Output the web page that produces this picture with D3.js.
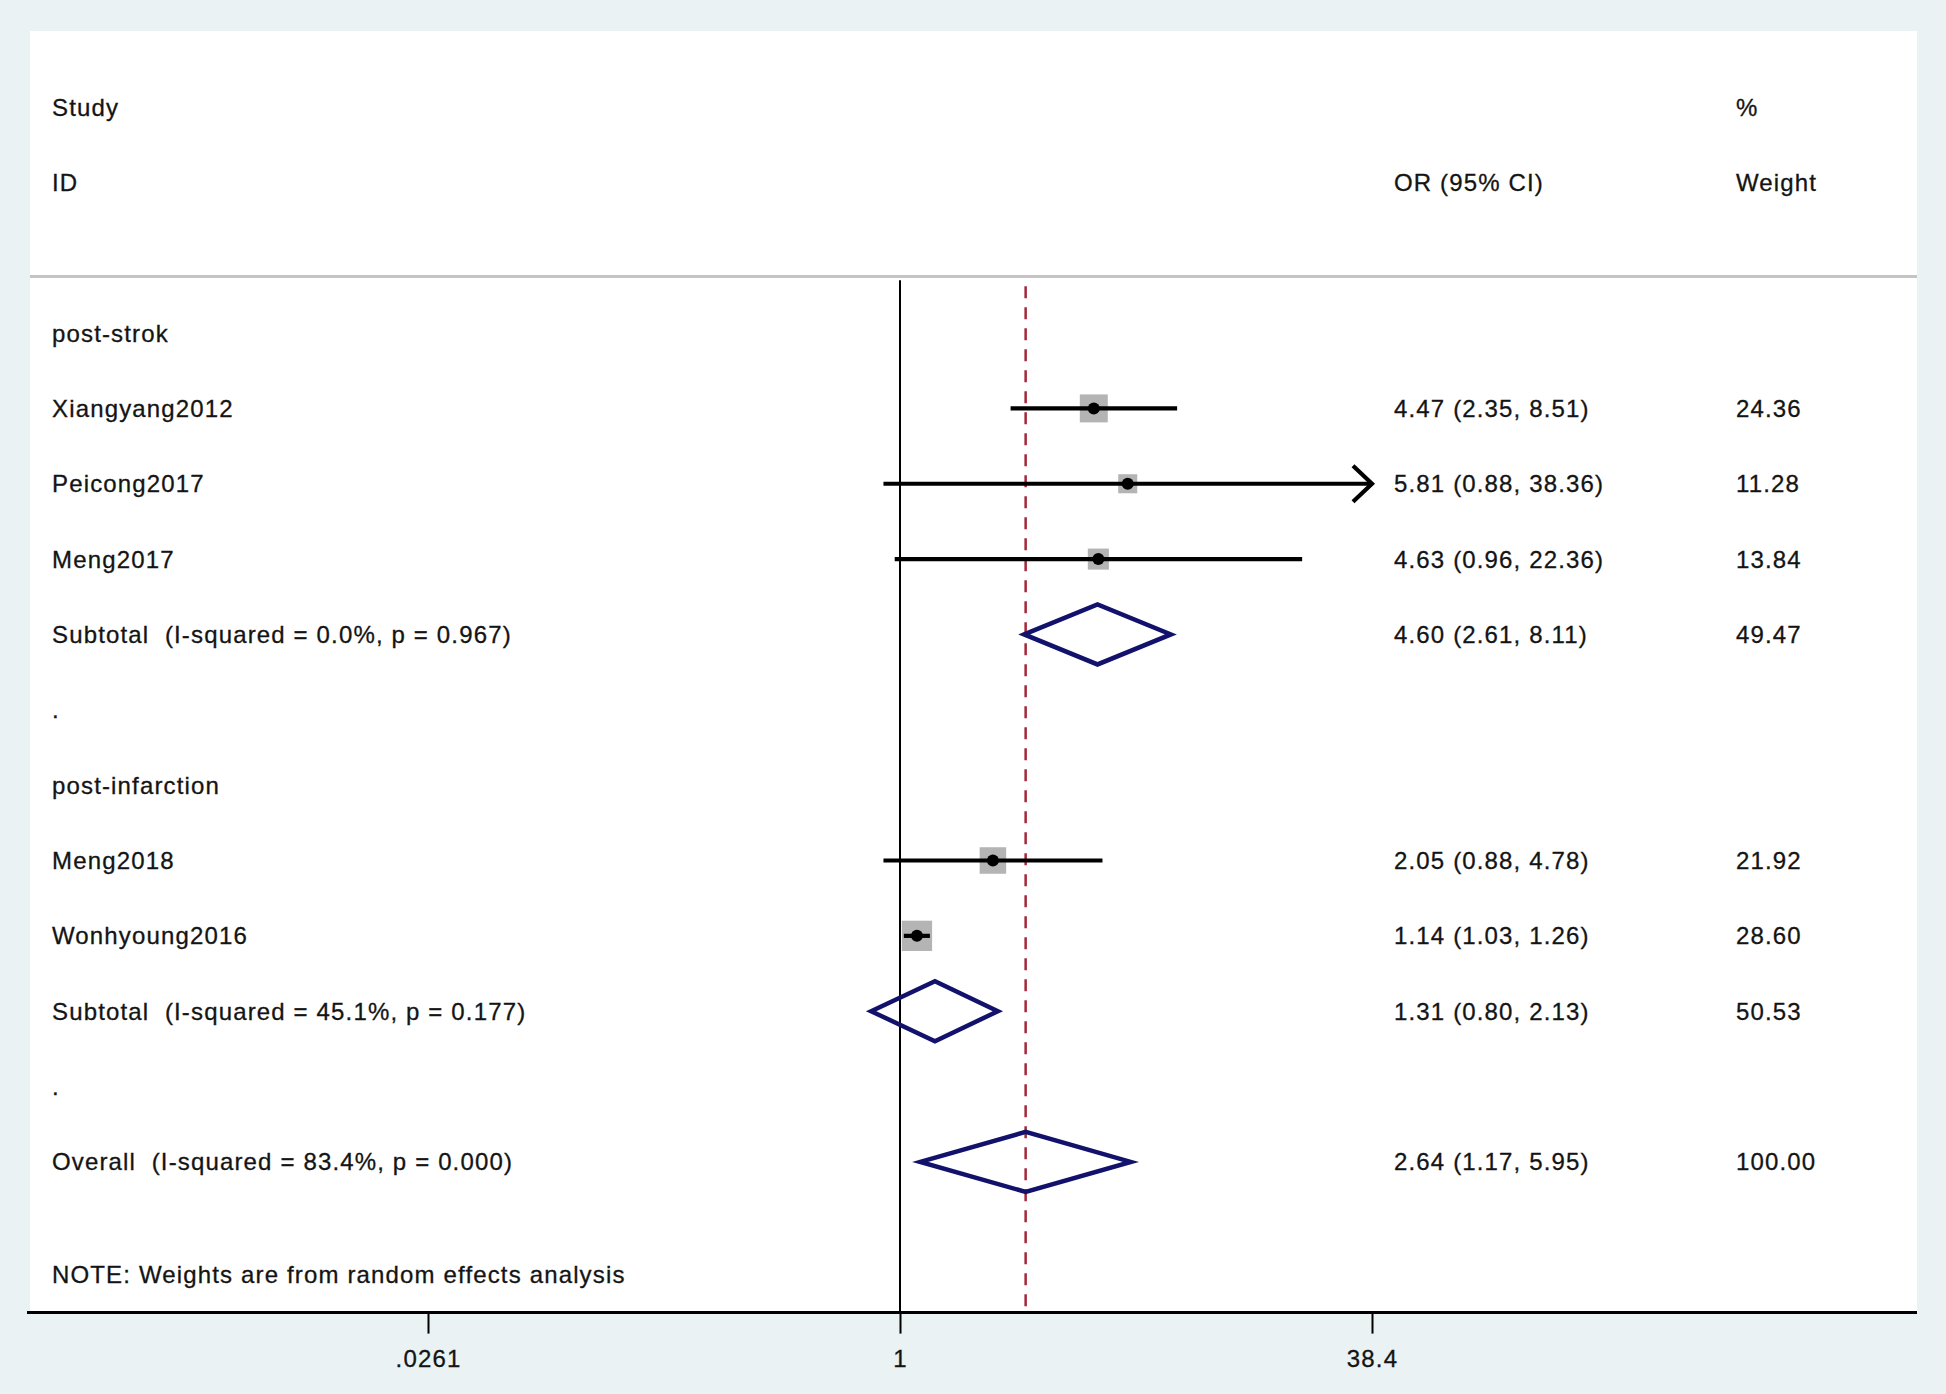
<!DOCTYPE html>
<html>
<head>
<meta charset="utf-8">
<script src="https://cdn.jsdelivr.net/npm/d3@7"></script>
<style>
  html, body { margin: 0; padding: 0; background: #eaf2f3; }
  text { font-family: "Liberation Sans", Arial, sans-serif; fill: #141414; stroke: #141414; stroke-width: 0.3; white-space: pre; }
</style>
</head>
<body>
<svg id="chart"></svg>
<script>
// forest plot, rows counted from the first group header
var rowLabels = ["post-strok", "Xiangyang2012", "Peicong2017", "Meng2017",
  "Subtotal  (I-squared = 0.0%, p = 0.967)", ".",
  "post-infarction", "Meng2018", "Wonhyoung2016",
  "Subtotal  (I-squared = 45.1%, p = 0.177)", ".",
  "Overall  (I-squared = 83.4%, p = 0.000)"];

// individual studies
var studyRow = [1, 2, 3, 7, 8];
var studyOR = [4.47, 5.81, 4.63, 2.05, 1.14];
var studyLo = [2.35, 0.88, 0.96, 0.88, 1.03];
var studyHi = [8.51, 38.36, 22.36, 4.78, 1.26];
var studyW = [24.36, 11.28, 13.84, 21.92, 28.60];

// pooled estimates
var poolRow = [4, 9, 11];
var poolOR = [4.60, 1.31, 2.64];
var poolLo = [2.61, 0.80, 1.17];
var poolHi = [8.11, 2.13, 5.95];
var poolW = [49.47, 50.53, 100.00];

// symmetric log axis, max = widest CI bound
var axisMax = 38.36;
var tickVals = [1 / axisMax, 1, axisMax];
var tickLabels = [".0261", "1", "38.4"];
var noteText = "NOTE: Weights are from random effects analysis";

var width = 1946, height = 1394;
var panel = {left: 30, top: 31, right: 1917};
var colLabel = 52, colOR = 1394, colW = 1736;
var fs = 24, ls = 1.15;

var svg = d3.select("#chart").attr("width", width).attr("height", height);

var x = d3.scaleLog().domain([1 / axisMax, axisMax]).range([428, 1372]);
var y = d3.scaleLinear().domain([-3, 13]).range([107, 1312.6]);
var side = d3.scaleSqrt().domain([0, 28.6]).range([0, 30.3]);
var axisY = y(13);

function fmt(v) { return v.toFixed(2); }

// white plot region
svg.append("rect")
  .attr("x", panel.left).attr("y", panel.top)
  .attr("width", panel.right - panel.left).attr("height", axisY - panel.top)
  .attr("fill", "#fff");

function txt(xp, row, s) {
  return svg.append("text")
    .attr("x", xp).attr("y", y(row) + 8.5)
    .attr("font-size", fs)
    .attr("letter-spacing", ls)
    .text(s);
}

// header
txt(colLabel, -3, "Study");
txt(colLabel, -2, "ID");
txt(colW, -3, "%");
txt(colOR, -2, "OR (95% CI)");
txt(colW, -2, "Weight");

svg.append("line")
  .attr("x1", panel.left).attr("x2", panel.right)
  .attr("y1", y(-0.75)).attr("y2", y(-0.75))
  .attr("stroke", "#c4c4c4").attr("stroke-width", 3);

// no-effect line and overall estimate line
svg.append("line")
  .attr("x1", x(1)).attr("x2", x(1))
  .attr("y1", y(-0.7)).attr("y2", axisY)
  .attr("stroke", "#000").attr("stroke-width", 2);

svg.append("line")
  .attr("x1", x(poolOR[2])).attr("x2", x(poolOR[2]))
  .attr("y1", y(-0.62)).attr("y2", axisY)
  .attr("stroke", "#a3283a").attr("stroke-width", 2.5)
  .attr("stroke-dasharray", "12,9");

// left labels
rowLabels.forEach(function(s, i) { txt(colLabel, i, s); });
txt(colLabel, 12.5, noteText);

// studies
var studies = studyRow.map(function(r, i) {
  return {row: r, or: studyOR[i], lo: studyLo[i], hi: studyHi[i], w: studyW[i]};
});
var g = svg.append("g");
studies.forEach(function(d) {
  var cy = y(d.row), s = side(d.w);
  g.append("rect")
    .attr("x", x(d.or) - s / 2).attr("y", cy - s / 2)
    .attr("width", s).attr("height", s)
    .attr("fill", "#b4b4b4");
  var hiC = Math.min(d.hi, axisMax);
  g.append("line")
    .attr("x1", x(Math.max(d.lo, 1 / axisMax))).attr("x2", x(hiC))
    .attr("y1", cy).attr("y2", cy)
    .attr("stroke", "#000").attr("stroke-width", 4.2);
  if (d.hi >= axisMax) {
    var tx = x(hiC);
    g.append("path")
      .attr("d", "M" + (tx - 19) + "," + (cy - 18) + "L" + tx + "," + cy + "L" + (tx - 19) + "," + (cy + 18))
      .attr("fill", "none").attr("stroke", "#000").attr("stroke-width", 4.2);
  }
  g.append("circle")
    .attr("cx", x(d.or)).attr("cy", cy).attr("r", 6)
    .attr("fill", "#000");
  txt(colOR, d.row, fmt(d.or) + " (" + fmt(d.lo) + ", " + fmt(d.hi) + ")");
  txt(colW, d.row, fmt(d.w));
});

// pooled diamonds
poolRow.forEach(function(r, i) {
  var cy = y(r), h = 30;
  g.append("path")
    .attr("d", "M" + x(poolLo[i]) + "," + cy + "L" + x(poolOR[i]) + "," + (cy - h) +
      "L" + x(poolHi[i]) + "," + cy + "L" + x(poolOR[i]) + "," + (cy + h) + "Z")
    .attr("fill", "none").attr("stroke", "#12126c").attr("stroke-width", 4.5);
  txt(colOR, r, fmt(poolOR[i]) + " (" + fmt(poolLo[i]) + ", " + fmt(poolHi[i]) + ")");
  txt(colW, r, fmt(poolW[i]));
});

// x axis
var xAxis = d3.axisBottom(x)
  .tickValues(tickVals)
  .tickFormat(function(d, i) { return tickLabels[i]; })
  .tickSize(21).tickSizeOuter(0);

var ax = svg.append("g")
  .attr("transform", "translate(0," + axisY + ")")
  .call(xAxis);
ax.select(".domain").remove();
ax.selectAll(".tick line").attr("stroke", "#000").attr("stroke-width", 2);
ax.selectAll(".tick text")
  .attr("y", 37).attr("font-size", fs)
  .attr("font-family", "Liberation Sans, Arial, sans-serif")
  .attr("letter-spacing", ls);

svg.append("line")
  .attr("x1", panel.left - 3).attr("x2", panel.right)
  .attr("y1", axisY).attr("y2", axisY)
  .attr("stroke", "#000").attr("stroke-width", 3);
</script>
</body>
</html>
